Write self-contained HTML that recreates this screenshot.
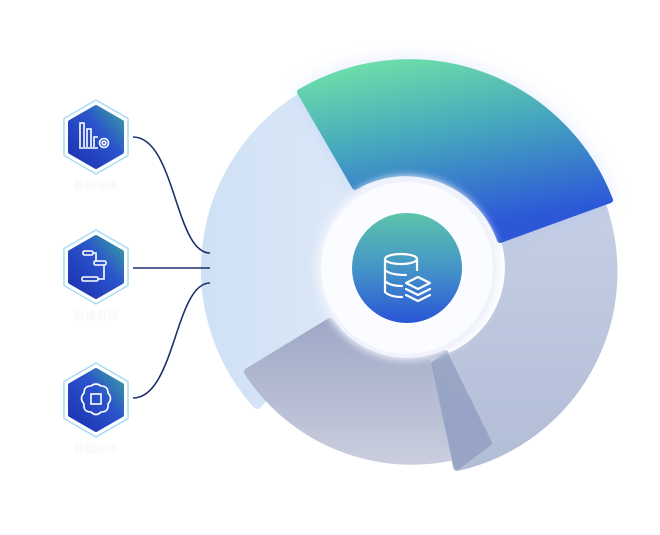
<!DOCTYPE html>
<html><head><meta charset="utf-8"><style>
html,body{margin:0;padding:0;background:#fff;width:660px;height:535px;overflow:hidden}
svg{display:block}
</style></head><body>
<svg width="660" height="535" viewBox="0 0 660 535" xmlns="http://www.w3.org/2000/svg">
<defs>
<linearGradient id="gG" x1="0" y1="0" x2="0.3" y2="1"><stop offset="0" stop-color="#72e6a6"/><stop offset="0.5" stop-color="#46a6be"/><stop offset="1" stop-color="#2c58d8"/></linearGradient>
<linearGradient id="gR" x1="0" y1="0" x2="0" y2="1"><stop offset="0" stop-color="#c6d0e6"/><stop offset="1" stop-color="#b2bdd6"/></linearGradient>
<linearGradient id="gB" x1="0" y1="0" x2="0" y2="1"><stop offset="0" stop-color="#9ea8c6"/><stop offset="1" stop-color="#c9cddd"/></linearGradient>
<linearGradient id="gL" x1="0" y1="0" x2="1" y2="0"><stop offset="0" stop-color="#cfe1f6"/><stop offset="1" stop-color="#dde9f7"/></linearGradient>
<linearGradient id="gC" x1="0" y1="0" x2="0" y2="1"><stop offset="0" stop-color="#5cc4aa"/><stop offset="0.5" stop-color="#4595c8"/><stop offset="1" stop-color="#2a55d6"/></linearGradient>
<linearGradient id="gH" x1="0" y1="1" x2="1" y2="0"><stop offset="0" stop-color="#1b2fb0"/><stop offset="0.6" stop-color="#2b55cc"/><stop offset="1" stop-color="#3aa39a"/></linearGradient>
<filter id="glow" x="-30%" y="-30%" width="160%" height="160%"><feGaussianBlur stdDeviation="10"/></filter>
<filter id="sh" x="-20%" y="-20%" width="140%" height="140%"><feGaussianBlur stdDeviation="4"/></filter>
</defs>

<path d="M 302.4 95.9 A 203 203 0 0 0 257 405 L 337.2 329.1 A 95 95 0 0 1 359.7 187.4 Z" fill="url(#gL)" stroke="url(#gL)" stroke-width="8" stroke-linejoin="round"/>
<path d="M 248 372 A 196 196 0 0 0 489 445 L 445 354 A 95 95 0 0 1 330 322 Z" fill="url(#gB)" stroke="url(#gB)" stroke-width="8" stroke-linejoin="round"/>
<path d="M 596 190 A 200 200 0 0 1 457 467 L 434 362 A 97 97 0 0 0 500 227 Z" fill="url(#gR)" stroke="url(#gR)" stroke-width="8" stroke-linejoin="round"/>
<path d="M 434 364 L 446 356 L 489 443 L 457 467 Z" fill="#93a0c2" opacity="0.85" stroke="#93a0c2" stroke-width="6" stroke-linejoin="round"/>
<path d="M 300 92 A 215 215 0 0 1 610 200 L 500 240 A 100 100 0 0 0 355 187 Z" fill="#8fb0ff" opacity="0.35" filter="url(#glow)"/>
<path d="M 300 92 A 215 215 0 0 1 610 200 L 500 240 A 100 100 0 0 0 355 187 Z" fill="url(#gG)" stroke="url(#gG)" stroke-width="6" stroke-linejoin="round"/>

<circle cx="407" cy="268" r="92" fill="#eef1fb" filter="url(#sh)"/>
<circle cx="407" cy="268" r="86" fill="#fbfcff"/>
<circle cx="407" cy="268" r="55" fill="url(#gC)"/>
<g fill="none" stroke="#fff" stroke-width="2.2" stroke-linecap="round" stroke-linejoin="round">
<ellipse cx="401" cy="259" rx="16" ry="5"/>
<path d="M385 259 V292 M417 259 V270 M385 270 Q390 275 406 275 M385 281 Q390 286 402 286 M385 292 Q390 297 402 297"/>
<path d="M418 277 L430 283 L418 289 L406 283 Z"/>
<path d="M406 289 L418 295 L430 289 M406 295 L418 301 L430 295"/>
</g>

<g fill="none" stroke="#1e2f6e" stroke-width="1.6">
<path d="M133 137 C175 137 175 253 210 253"/>
<path d="M133 268 L210 268"/>
<path d="M133 398 C175 398 175 283 210 283"/>
</g>

<g>
<g transform="translate(96,137)">
<polygon points="0,-37 32,-18.5 32,18.5 0,37 -32,18.5 -32,-18.5" fill="#fff" stroke="#a8dcf6" stroke-width="1.5"/>
<polygon points="0,-30 26,-15 26,15 0,30 -26,15 -26,-15" fill="url(#gH)" stroke="url(#gH)" stroke-width="4" stroke-linejoin="round"/>
<g fill="none" stroke="#fff" stroke-width="1.6"><path d="M-16 10 V-14 H-12 V10 M-9 10 V-8 H-5 V10 M-2 10 V0 H2 M-17 11 H2"/><circle cx="8" cy="6" r="4.5"/><circle cx="8" cy="6" r="1.8"/></g>
<text x="0" y="52" text-anchor="middle" font-family="Liberation Sans, Noto Sans CJK SC, sans-serif" font-size="11" fill="#f4f6fa">数据采集</text>
</g>
<g transform="translate(96,267)">
<polygon points="0,-37 32,-18.5 32,18.5 0,37 -32,18.5 -32,-18.5" fill="#fff" stroke="#a8dcf6" stroke-width="1.5"/>
<polygon points="0,-30 26,-15 26,15 0,30 -26,15 -26,-15" fill="url(#gH)" stroke="url(#gH)" stroke-width="4" stroke-linejoin="round"/>
<g fill="none" stroke="#fff" stroke-width="1.6"><rect x="-13" y="-16" width="10" height="4" rx="1.5"/><rect x="-2" y="-6" width="12" height="4" rx="1.5"/><rect x="-14" y="10" width="16" height="4" rx="1.5"/><path d="M-3 -14 H0 V-6 M8 -2 V12 H2"/></g>
<text x="0" y="52" text-anchor="middle" font-family="Liberation Sans, Noto Sans CJK SC, sans-serif" font-size="11" fill="#f4f6fa">数据治理</text>
</g>
<g transform="translate(96,400)">
<polygon points="0,-37 32,-18.5 32,18.5 0,37 -32,18.5 -32,-18.5" fill="#fff" stroke="#a8dcf6" stroke-width="1.5"/>
<polygon points="0,-30 26,-15 26,15 0,30 -26,15 -26,-15" fill="url(#gH)" stroke="url(#gH)" stroke-width="4" stroke-linejoin="round"/>
<g fill="none" stroke="#fff" stroke-width="1.6"><path d="M-5 -14 Q0 -18 5 -14 Q12 -14 12 -7 Q17 -2 12 4 Q13 12 5 12 Q0 17 -5 12 Q-13 12 -12 4 Q-17 -2 -12 -7 Q-12 -14 -5 -14 Z"/><rect x="-5" y="-6" width="10" height="10"/></g>
<text x="0" y="52" text-anchor="middle" font-family="Liberation Sans, Noto Sans CJK SC, sans-serif" font-size="11" fill="#f4f6fa">数据应用</text>
</g>
</g>
</svg>
</body></html>
